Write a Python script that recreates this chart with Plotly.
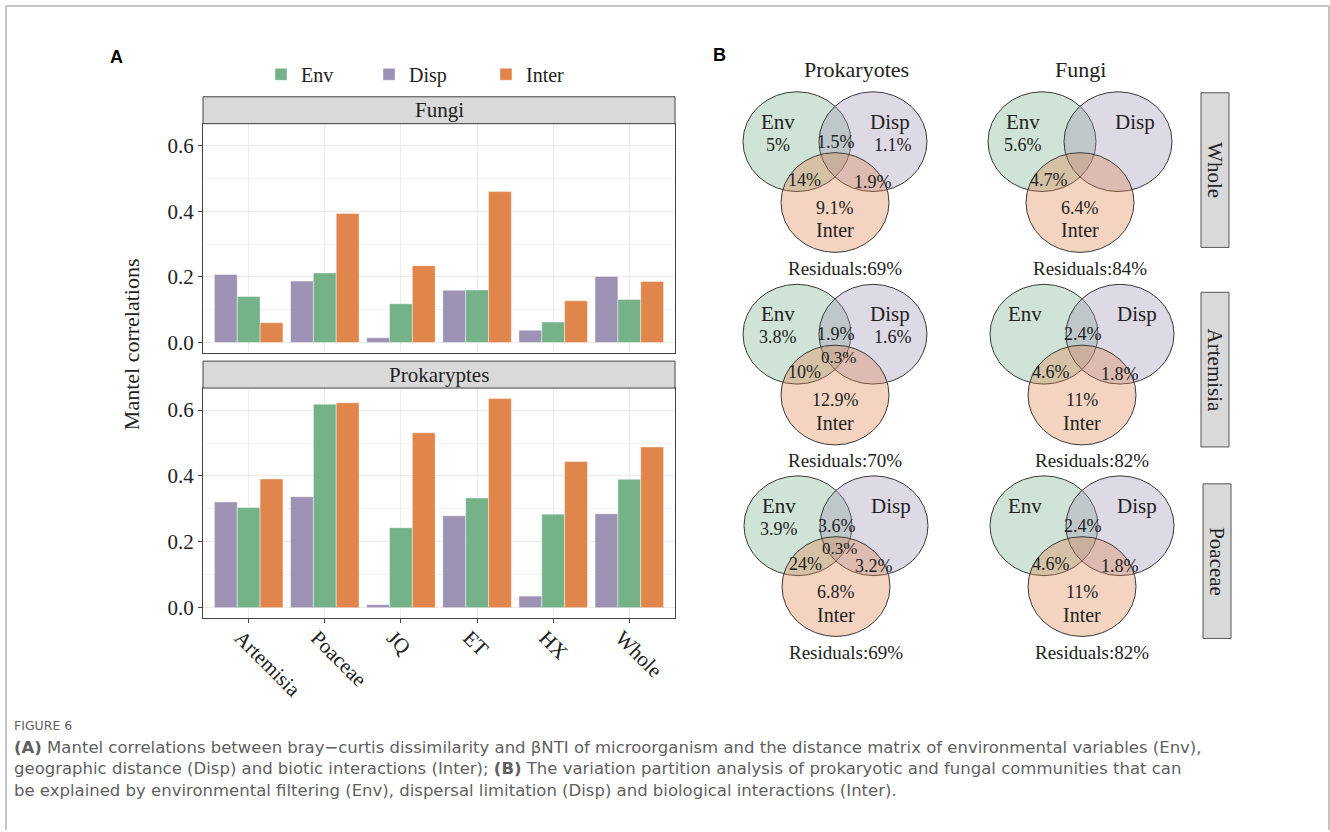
import plotly.graph_objects as go

# ---------------- data ----------------
sites = ["Artemisia", "Poaceae", "JQ", "ET", "HX", "Whole"]

fungi_disp = [0.207, 0.187, 0.014, 0.159, 0.037, 0.201]
fungi_env = [0.140, 0.212, 0.118, 0.160, 0.062, 0.131]
fungi_inter = [0.060, 0.393, 0.234, 0.460, 0.127, 0.186]

prok_disp = [0.321, 0.337, 0.009, 0.279, 0.035, 0.285]
prok_env = [0.304, 0.618, 0.243, 0.333, 0.284, 0.390]
prok_inter = [0.391, 0.622, 0.531, 0.635, 0.444, 0.488]

y_ticks = [0.0, 0.2, 0.4, 0.6]

# variation partitioning (%), rows: Whole, Artemisia, Poaceae ; None = not labelled
venn_rows = ["Whole", "Artemisia", "Poaceae"]
prok_env_only = [5, 3.8, 3.9]
prok_disp_only = [1.1, 1.6, None]
prok_inter_only = [9.1, 12.9, 6.8]
prok_env_disp = [1.5, 1.9, 3.6]
prok_env_inter = [14, 10, 24]
prok_disp_inter = [1.9, None, 3.2]
prok_all = [None, 0.3, 0.3]
prok_resid = [69, 70, 69]

fungi_env_only = [5.6, None, None]
fungi_disp_only = [None, None, None]
fungi_inter_only = [6.4, 11, 11]
fungi_env_disp = [None, 2.4, 2.4]
fungi_env_inter = [4.7, 4.6, 4.6]
fungi_disp_inter = [None, 1.8, 1.8]
fungi_all = [None, None, None]
fungi_resid = [84, 82, 82]

# ---------------- style ----------------
W, H = 1330, 832
C_ENV = "rgb(117,178,138)"
C_DISP = "rgb(157,145,180)"
C_INTER = "rgb(224,133,76)"
F_ENV = "rgba(117,178,138,0.35)"
F_DISP = "rgba(157,145,180,0.35)"
F_INTER = "rgba(224,133,76,0.35)"
SERIF = "Liberation Serif"
SANS = "DejaVu Sans"


def px(x):
    return x / W


def py(y):
    return 1 - y / H


fig = go.Figure()

series = [
    ("Disp", C_DISP, fungi_disp, prok_disp, 2, 72),
    ("Env", C_ENV, fungi_env, prok_env, 1, 63),
    ("Inter", C_INTER, fungi_inter, prok_inter, 3, 60),
]
for name, col, fv, pv, rank, lw in series:
    common = dict(
        name=name,
        marker=dict(color=col, line=dict(color="rgba(255,255,255,0.7)", width=0.6)),
        legendgroup=name,
    )
    fig.add_trace(go.Bar(x=sites, y=fv, xaxis="x", yaxis="y", showlegend=True,
                         legendrank=rank, legendwidth=lw, **common))
    fig.add_trace(go.Bar(x=sites, y=pv, xaxis="x2", yaxis="y2", showlegend=False, **common))

yr = [-0.0318, 0.667]
x_dom = [px(203), px(675)]
axis_common = dict(showline=True, mirror=True, linecolor="#444", linewidth=1,
                   showgrid=True, gridcolor="#ebebeb", gridwidth=1, zeroline=False)
yaxis_common = dict(
    axis_common, range=yr, tickvals=y_ticks, ticktext=[f"{v:.1f}" for v in y_ticks],
    ticks="outside", ticklen=4, tickcolor="#444",
    tickfont=dict(family=SERIF, size=21, color="#222"),
    minor=dict(tickvals=[0.1, 0.3, 0.5], showgrid=True, gridcolor="#f2f2f2", ticks=""),
)

fig.update_layout(
    width=W, height=H,
    margin=dict(l=0, r=0, t=0, b=0),
    paper_bgcolor="white", plot_bgcolor="white",
    barmode="group", bargap=0.1, bargroupgap=0,
    xaxis=dict(axis_common, domain=x_dom, anchor="y", range=[-0.6, 5.6],
               showticklabels=False, ticks=""),
    xaxis2=dict(axis_common, domain=x_dom, anchor="y2", range=[-0.6, 5.6], matches="x",
                ticks="outside", ticklen=4, tickcolor="#444", tickangle=45,
                ticklabelshift=-8, ticklabelstandoff=-6,
                tickfont=dict(family=SERIF, size=21, color="#222")),
    yaxis=dict(yaxis_common, domain=[py(353.7), py(124)], anchor="x"),
    yaxis2=dict(yaxis_common, domain=[py(619.6), py(389)], anchor="x2"),
    legend=dict(orientation="h", x=px(261), y=py(55), xanchor="left", yanchor="top",
                font=dict(family=SERIF, size=20, color="#222"), bgcolor="rgba(0,0,0,0)",
                traceorder="normal"),
    showlegend=True,
)

shapes = []
annots = []


def text(x, y, s, size, family=SERIF, color="#222", **kw):
    annots.append(dict(x=px(x), y=py(y), xref="paper", yref="paper", text=s,
                       showarrow=False, font=dict(family=family, size=size, color=color),
                       xanchor=kw.pop("xanchor", "center"), yanchor=kw.pop("yanchor", "middle"), **kw))


def rect(x0, y0, x1, y1, fill, line="#444", width=1):
    shapes.append(dict(type="rect", xref="paper", yref="paper",
                       x0=px(x0), x1=px(x1), y0=py(y1), y1=py(y0),
                       fillcolor=fill, line=dict(color=line, width=width)))


# facet strips
rect(203, 97, 675, 124, "#d9d9d9")
text(439, 110.5, "Fungi", 21)
rect(203, 362, 675, 389, "#d9d9d9")
text(439, 375.5, "Prokaryptes", 21)

# y-axis title
text(131, 345, "Mantel correlations", 22, textangle=-90)

# panel letters
text(116, 57, "<b>A</b>", 18, family="Liberation Sans", color="#000")
text(719, 55, "<b>B</b>", 18, family="Liberation Sans", color="#000")

# ---------------- Venn diagrams ----------------
RX, RY = 54, 50
DX, DY = 38, 61


def ellipse(cx, cy, fill):
    shapes.append(dict(type="circle", xref="paper", yref="paper",
                       x0=px(cx - RX), x1=px(cx + RX), y0=py(cy + RY), y1=py(cy - RY),
                       fillcolor=fill, line=dict(color="#3a3a3a", width=1)))


def pct(v):
    return "" if v is None else f"{v:g}%"


def venn(cx, cy, env_only, disp_only, inter_only, env_disp, env_inter, disp_inter,
         all3, resid):
    ellipse(cx - DX, cy - DY, F_ENV)
    ellipse(cx + DX, cy - DY, F_DISP)
    ellipse(cx, cy, F_INTER)
    text(cx - 57, cy - 81, "Env", 21)
    text(cx + 55, cy - 81, "Disp", 21)
    text(cx, cy + 28, "Inter", 20)
    labels = [
        (env_only, -57, -58, 18), (disp_only, 58, -58, 18), (inter_only, 0, 5, 18),
        (env_disp, 1, -61, 18), (env_inter, -31, -23, 18), (disp_inter, 38, -21, 18),
        (all3, 3, -38, 17),
    ]
    for v, ox, oy, fs in labels:
        if v is not None:
            text(cx + ox, cy + oy, pct(v), fs)
    text(cx + 10, cy + 66, f"Residuals:{resid}%", 19)


prok_cx = [835, 835, 836]
fungi_cx = [1080, 1082, 1082]
row_cy = [203, 396, 588]
for i in range(3):
    venn(prok_cx[i], row_cy[i], prok_env_only[i], prok_disp_only[i], prok_inter_only[i],
         prok_env_disp[i], prok_env_inter[i], prok_disp_inter[i], prok_all[i], prok_resid[i])
    venn(fungi_cx[i], row_cy[i], fungi_env_only[i], fungi_disp_only[i], fungi_inter_only[i],
         fungi_env_disp[i], fungi_env_inter[i], fungi_disp_inter[i], fungi_all[i], fungi_resid[i])

text(856, 70, "Prokaryotes", 22)
text(1080, 70, "Fungi", 22)

# row strips on the right
strip_boxes = [(1201, 93, 1229, 248), (1201, 293, 1229, 448), (1203, 485, 1231, 640)]
for (x0, y0, x1, y1), lab in zip(strip_boxes, venn_rows):
    rect(x0, y0, x1, y1, "#d9d9d9", line="#555")
    text((x0 + x1) / 2, (y0 + y1) / 2, lab, 21, textangle=90)

# ---------------- caption ----------------
CAP = "#5f5f5f"
text(12, 727, "FIGURE 6", 12.5, family=SANS, color=CAP, xanchor="left")
cap_lines = [
    "<b>(A)</b> Mantel correlations between bray\u2212curtis dissimilarity and \u03b2NTI of microorganism "
    "and the distance matrix of environmental variables (Env),",
    "geographic distance (Disp) and biotic interactions (Inter); <b>(B)</b> The variation partition "
    "analysis of prokaryotic and fungal communities that can",
    "be explained by environmental filtering (Env), dispersal limitation (Disp) and biological "
    "interactions (Inter).",
]
text(12, 738, "<br>".join(cap_lines), 16.5, family=SANS, color=CAP,
     xanchor="left", yanchor="top", align="left")

# outer frame
for x0, y0, x1, y1 in [(6, 6, 1329, 6), (6, 6, 6, 832), (1329, 6, 1329, 832)]:
    shapes.append(dict(type="line", xref="paper", yref="paper", x0=px(x0), x1=px(x1),
                       y0=py(y0), y1=py(y1), line=dict(color="#c4c4c4", width=2)))

fig.update_layout(shapes=shapes, annotations=annots)
fig.write_html("out.html")
